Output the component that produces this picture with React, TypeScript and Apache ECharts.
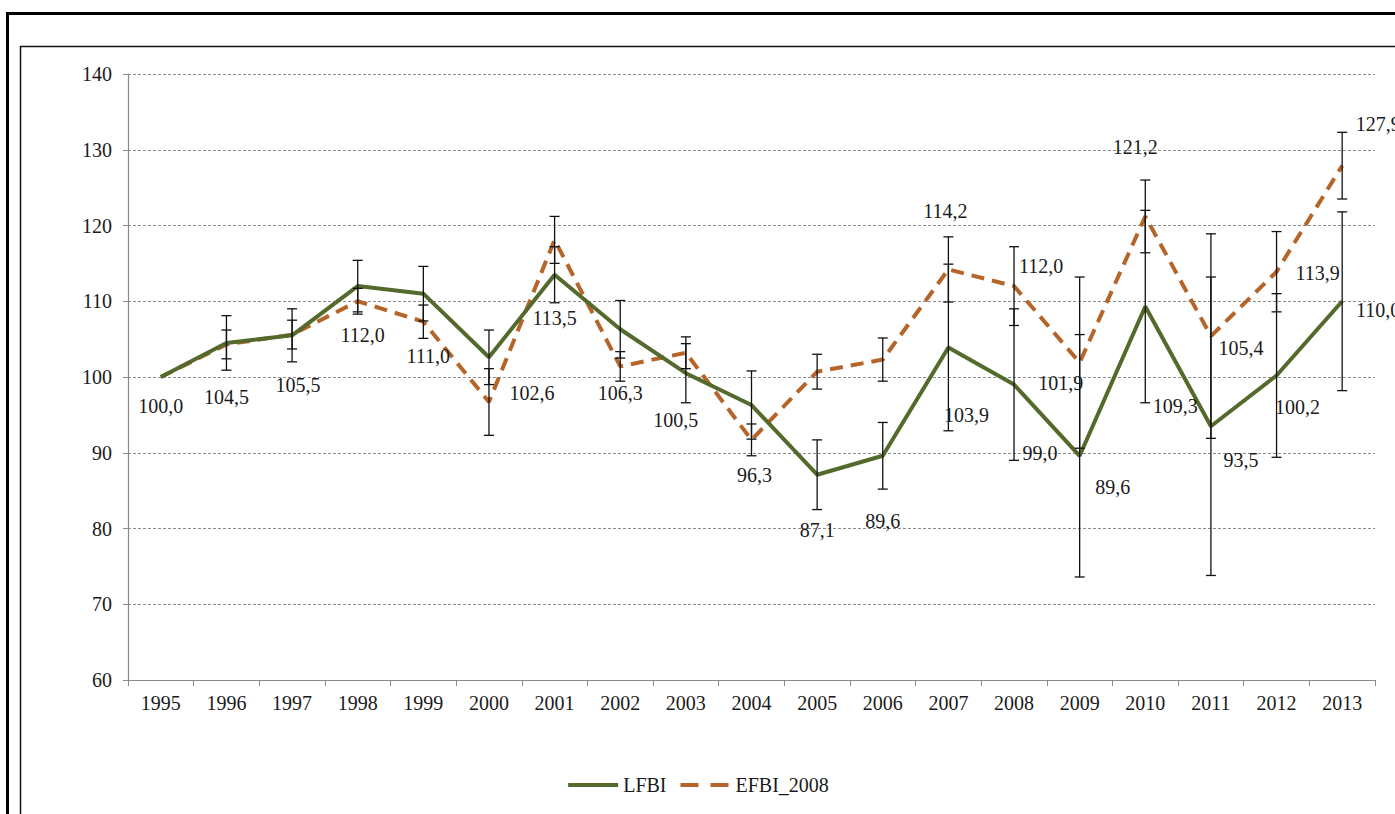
import React, { useEffect, useRef } from "react";
import * as echarts from "echarts";

const years = ["1995","1996","1997","1998","1999","2000","2001","2002","2003","2004","2005","2006","2007","2008","2009","2010","2011","2012","2013"];
const lfbi = [100.0,104.5,105.5,112.0,111.0,102.6,113.5,106.3,100.5,96.3,87.1,89.6,103.9,99.0,89.6,109.3,93.5,100.2,110.0];
const efbi = [100.0,104.3,105.6,110.0,107.3,96.7,118.1,101.4,103.2,91.7,100.7,102.3,114.2,112.0,101.9,121.2,105.4,113.9,127.9];
const lfbiErr = [0,3.6,3.5,3.4,3.6,3.6,3.7,3.8,3.9,4.5,4.6,4.4,11.0,10.0,16.0,12.7,19.7,10.8,11.8];
const efbiErr = [0,1.9,1.9,1.7,2.2,4.4,3.1,1.95,2.1,2.1,2.3,2.85,4.3,5.2,11.3,4.8,13.5,5.3,4.4];
const efbiLabelFrom = 12; // EFBI labels shown from 2007 on
const yTicks = [60, 70, 80, 90, 100, 110, 120, 130, 140];

// label placement (pixels relative to point)
const lfbiLabelOffsets: [number, number][] = [
  [0,29],[0,54],[6,50],[5,49],[5,62],[43,36],[0,43],[0,64],[-10,47],[3,70],
  [0,55],[0,65],[18,68],[26,68],[33,31],[30,99],[30,34],[21,32],[36,9],
];
const efbiLabelOffsets: [number, number][] = [
  [-3,-58],[27,-20],[-19,20],[-10,-69],[30,12],[41,1],[36,-42],
];

const GREEN = "#546a2c";
const ORANGE = "#b5652a";
const FONT = "'Liberation Serif', 'Times New Roman', serif";

const fmt = (v: number) => v.toFixed(1).replace(".", ",");

export default function App() {
  const ref = useRef<HTMLDivElement>(null);
  useEffect(() => {
    document.body.style.margin = "0";
    const chart = echarts.init(ref.current!, undefined, { renderer: "svg" });

    const errRender = (params: any, api: any) => {
      const x = api.value(0);
      const lo = api.coord([x, api.value(1)]);
      const hi = api.coord([x, api.value(2)]);
      const w = 5;
      const style = { stroke: "#111", lineWidth: 1.3 };
      return {
        type: "group",
        children: [
          { type: "line", shape: { x1: hi[0], y1: hi[1], x2: lo[0], y2: lo[1] }, style },
          { type: "line", shape: { x1: hi[0] - w, y1: hi[1], x2: hi[0] + w, y2: hi[1] }, style },
          { type: "line", shape: { x1: lo[0] - w, y1: lo[1], x2: lo[0] + w, y2: lo[1] }, style },
        ],
      };
    };

    const errData = (vals: number[], errs: number[]) =>
      vals.map((v, i) => [i, v - errs[i], v + errs[i]]).filter((d, i) => errs[i] > 0);

    const labelRender = (offsets: [number, number][]) => (params: any, api: any) => {
      const p = api.coord([api.value(0), api.value(1)]);
      const off = offsets[params.dataIndex];
      return {
        type: "text",
        x: p[0] + off[0],
        y: p[1] + off[1],
        style: {
          text: fmt(api.value(1)),
          fill: "#1a1a1a",
          font: `20px ${FONT}`,
          align: "center",
          verticalAlign: "middle",
        },
      };
    };

    chart.setOption({
      animation: false,
      grid: { left: 128, right: 20, top: 74, bottom: 134 },
      xAxis: {
        type: "category",
        data: years,
        boundaryGap: true,
        axisLine: { lineStyle: { color: "#8a8a8a", width: 1.2 } },
        axisTick: { show: true, alignWithLabel: false, length: 6, lineStyle: { color: "#8a8a8a" } },
        axisLabel: { color: "#1a1a1a", fontFamily: FONT, fontSize: 20, margin: 13 },
      },
      yAxis: {
        type: "value",
        min: 60,
        max: 140,
        interval: 10,
        axisLine: { show: true, lineStyle: { color: "#8a8a8a", width: 1.2 } },
        axisTick: { show: true, length: 5, lineStyle: { color: "#8a8a8a" } },
        axisLabel: {
          color: "#1a1a1a", fontFamily: FONT, fontSize: 20, margin: 16,
          formatter: (v: number) => (yTicks.includes(v) ? String(v) : ""),
        },
        splitLine: { show: true, lineStyle: { color: "#8a8a8a", type: [3, 2], width: 1 } },
      },
      legend: {
        bottom: 14,
        left: "center",
        itemWidth: 50,
        itemHeight: 14,
        itemGap: 12,
        itemStyle: { opacity: 0 },
        textStyle: { color: "#1a1a1a", fontFamily: FONT, fontSize: 20 },
        data: [
          { name: "LFBI", lineStyle: { width: 4 } },
          { name: "EFBI_2008", lineStyle: { width: 4, type: [18, 12] } },
        ],
      },
      graphic: [
        { type: "rect", silent: true, shape: { x: 7.5, y: 13.5, width: 1500, height: 900 }, style: { fill: "none", stroke: "#000", lineWidth: 3 } },
        { type: "rect", silent: true, shape: { x: 20.5, y: 46.5, width: 1500, height: 900 }, style: { fill: "none", stroke: "#111", lineWidth: 1.5 } },
      ],
      series: [
        {
          name: "LFBI",
          type: "line",
          data: lfbi,
          symbol: "none",
          lineStyle: { color: GREEN, width: 4 },
          itemStyle: { color: GREEN },
          z: 3,
        },
        {
          name: "EFBI_2008",
          type: "line",
          data: efbi,
          symbol: "none",
          lineStyle: { color: ORANGE, width: 4, type: [13, 8] },
          itemStyle: { color: ORANGE },
          z: 2,
        },
        {
          name: "errL",
          type: "custom",
          renderItem: errRender,
          data: errData(lfbi, lfbiErr),
          z: 5,
          silent: true,
        },
        {
          name: "errE",
          type: "custom",
          renderItem: errRender,
          data: errData(efbi, efbiErr),
          z: 5,
          silent: true,
        },
        {
          name: "lblL",
          type: "custom",
          renderItem: labelRender(lfbiLabelOffsets),
          data: lfbi.map((v, i) => [i, v]),
          z: 6,
          silent: true,
        },
        {
          name: "lblE",
          type: "custom",
          renderItem: labelRender(efbiLabelOffsets),
          data: efbi.slice(efbiLabelFrom).map((v, i) => [i + efbiLabelFrom, v]),
          z: 6,
          silent: true,
        },
      ],
    });
    return () => chart.dispose();
  }, []);
  return <div ref={ref} style={{ position: "absolute", left: 0, top: 0, width: 1395, height: 814, background: "#fff" }} />;
}
